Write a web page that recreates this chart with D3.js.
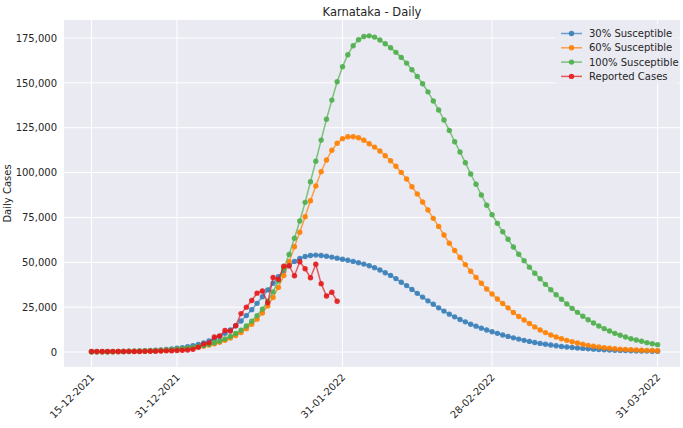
<!DOCTYPE html>
<html>
<head>
<meta charset="utf-8">
<script src="https://cdn.jsdelivr.net/npm/d3@7"></script>
<style>
  body { margin: 0; background: #fff; }
  svg text { font-family: "DejaVu Sans", sans-serif; fill: #262626; }
</style>
</head>
<body>
<div id="chart"></div>
<script>
// data, one value per day starting 15-12-2021
let startDay = new Date(2021, 11, 15);
let tickDates = ['15-12-2021', '31-12-2021', '31-01-2022', '28-02-2022', '31-03-2022'];
let yTicks = [0, 25000, 50000, 75000, 100000, 125000, 150000, 175000];

let sus30 = [100, 125, 150, 180, 220, 260, 320, 380, 460, 550,
  670, 800, 970, 1170, 1400, 1700, 2050, 2450, 2950, 3550,
  4250, 5100, 6100, 7300, 8700, 10400, 12300, 14600, 17300, 20300,
  23600, 27100, 30800, 34600, 38300, 41900, 45200, 48100, 50500, 52200,
  53200, 53800, 54000, 53800, 53400, 52900, 52300, 51700, 51100, 50500,
  49800, 49000, 48100, 47000, 45700, 44200, 42700, 40900, 38900, 37000,
  34900, 32700, 30600, 28500, 26600, 24600, 22800, 21100, 19600, 18100,
  16800, 15500, 14400, 13300, 12300, 11300, 10400, 9500, 8700, 7900,
  7200, 6500, 5900, 5300, 4800, 4300, 3900, 3500, 3100, 2800,
  2500, 2200, 2000, 1800, 1600, 1400, 1250, 1100, 1000, 900,
  800, 700, 620, 550, 490, 430, 380];

let sus60 = [85, 100, 120, 145, 170, 200, 240, 285, 340, 400,
  480, 570, 680, 810, 960, 1140, 1360, 1620, 1930, 2300,
  2730, 3250, 3850, 4600, 5450, 6500, 7750, 9200, 10900, 13000,
  15400, 18300, 21700, 25700, 30400, 36000, 42600, 50300, 58700, 66700,
  75400, 84300, 92500, 100500, 107000, 112400, 116300, 118900, 120000, 120000,
  119400, 118000, 116100, 114200, 112000, 109400, 106600, 103500, 100100, 96400,
  92100, 88100, 83600, 79100, 74500, 70000, 65200, 60600, 56600, 52700,
  48700, 45000, 41600, 38300, 35100, 32300, 29500, 27000, 24600, 22000,
  19800, 17800, 15900, 14000, 12300, 10800, 9500, 8400, 7400, 6500,
  5700, 5000, 4300, 3700, 3200, 2800, 2400, 2100, 1800, 1600,
  1450, 1300, 1100, 1000, 900, 800, 700];

let sus100 = [100, 120, 140, 165, 195, 230, 270, 320, 380, 450,
  530, 630, 750, 890, 1060, 1260, 1500, 1800, 2150, 2550,
  3050, 3650, 4350, 5150, 6150, 7300, 8700, 10300, 12200, 14500,
  17200, 20300, 23900, 28300, 33500, 39600, 46500, 54400, 63400, 73000,
  83400, 94900, 106300, 118100, 129700, 140400, 150600, 159000, 165700, 170700,
  174000, 175800, 176200, 175500, 173900, 171800, 169600, 167000, 164200, 161000,
  157300, 153600, 149500, 145000, 139900, 134900, 129300, 123500, 117200, 111500,
  105500, 99200, 93500, 87500, 81800, 76500, 71700, 67000, 62800, 58500,
  54500, 50900, 47300, 43900, 40800, 37700, 34700, 31900, 29400, 26800,
  24300, 22100, 19900, 18000, 16200, 14500, 13000, 11700, 10400, 9300,
  8400, 7400, 6700, 6000, 5200, 4600, 4100];

let reported = [300, 280, 300, 290, 320, 280, 300, 350, 300, 290,
  350, 400, 450, 550, 650, 700, 850, 1000, 1150, 1500,
  2700, 4400, 5100, 8400, 8900, 12000, 11700, 14600, 21400, 25000,
  28700, 32800, 34000, 27400, 41500, 40500, 47800, 48100, 42500, 50300,
  46400, 41400, 48900, 38100, 31200, 33300, 28300];

let seriesNames = ['30% Susceptible', '60% Susceptible', '100% Susceptible', 'Reported Cases'];
let seriesColors = ['#377eb8', '#ff7f00', '#4daf4a', '#e41a1c'];
let seriesData = [sus30, sus60, sus100, reported];

let W = 683, H = 428;
let plotL = 64, plotR = 680, plotT = 20, plotB = 367;

let parseD = d3.timeParse('%d-%m-%Y');

let x = d3.scaleTime()
  .domain([parseD('15-12-2021'), parseD('31-03-2022')])
  .range([91.5, 657.6]);
let y = d3.scaleLinear()
  .domain([0, 175000])
  .range([352, 38]);

let svg = d3.select('#chart').append('svg')
  .attr('width', W)
  .attr('height', H);

svg.append('rect')	//фон области графика
  .attr('x', plotL).attr('y', plotT)
  .attr('width', plotR - plotL).attr('height', plotB - plotT)
  .attr('fill', '#eaeaf2');

// сетка
svg.append('g').selectAll('line').data(yTicks).join('line')
  .attr('x1', plotL).attr('x2', plotR)
  .attr('y1', d => y(d)).attr('y2', d => y(d))
  .attr('stroke', '#fff').attr('stroke-width', 1);

svg.append('g').selectAll('line').data(tickDates).join('line')
  .attr('x1', d => x(parseD(d))).attr('x2', d => x(parseD(d)))
  .attr('y1', plotT).attr('y2', plotB)
  .attr('stroke', '#fff').attr('stroke-width', 1);

// оси без линий, только подписи
let yAxis = svg.append('g')
  .attr('transform', 'translate(' + plotL + ',0)')
  .call(d3.axisLeft(y).tickValues(yTicks).tickFormat(d3.format(',')).tickSize(0).tickPadding(7));
yAxis.select('.domain').remove();
yAxis.selectAll('text').style('font-size', '10px').attr('fill', '#262626');

let xAxis = svg.append('g')
  .attr('transform', 'translate(0,' + plotB + ')')
  .call(d3.axisBottom(x).tickValues(tickDates.map(parseD)).tickFormat(d3.timeFormat('%d-%m-%Y')).tickSize(0));
xAxis.select('.domain').remove();
xAxis.selectAll('text')
  .style('font-size', '10px')
  .attr('fill', '#262626')
  .attr('text-anchor', 'end')
  .attr('dy', 0)
  .attr('y', 0)
  .attr('transform', 'translate(3,11) rotate(-45)');

svg.append('text')
  .attr('transform', 'translate(11,' + ((plotT + plotB) / 2) + ') rotate(-90)')
  .attr('text-anchor', 'middle')
  .style('font-size', '10px')
  .text('Daily Cases');

svg.append('text')
  .attr('x', (plotL + plotR) / 2).attr('y', 16)
  .attr('text-anchor', 'middle')
  .style('font-size', '11.5px')
  .text('Karnataka - Daily');

let line = d3.line()
  .x((d, i) => x(d3.timeDay.offset(startDay, i)))
  .y(d => y(d));

seriesData.forEach((arr, k) => {
  let g = svg.append('g');
  g.append('path')
    .attr('d', line(arr))
    .attr('fill', 'none')
    .attr('stroke', seriesColors[k])
    .attr('stroke-width', 1.5)
    .attr('stroke-opacity', 0.7);
  g.selectAll('circle').data(arr).join('circle')
    .attr('cx', (d, i) => x(d3.timeDay.offset(startDay, i)))
    .attr('cy', d => y(d))
    .attr('r', 2.7)
    .attr('fill', seriesColors[k])
    .attr('fill-opacity', 0.9);
});

// легенда
let leg = svg.append('g').attr('transform', 'translate(555,24)');
leg.append('rect')
  .attr('width', 124).attr('height', 60).attr('rx', 2)
  .attr('fill', '#eaeaf2').attr('fill-opacity', 0.85);
seriesNames.forEach((name, k) => {
  let row = leg.append('g').attr('transform', 'translate(0,' + (9.5 + k * 14.3) + ')');
  row.append('line')
    .attr('x1', 6).attr('x2', 27)
    .attr('stroke', seriesColors[k]).attr('stroke-width', 1.5).attr('stroke-opacity', 0.7);
  row.append('circle')
    .attr('cx', 16.5).attr('r', 2.7)
    .attr('fill', seriesColors[k]).attr('fill-opacity', 0.9);
  row.append('text')
    .attr('x', 34).attr('y', 3.6)
    .style('font-size', '10px')
    .text(name);
});
</script>
</body>
</html>
